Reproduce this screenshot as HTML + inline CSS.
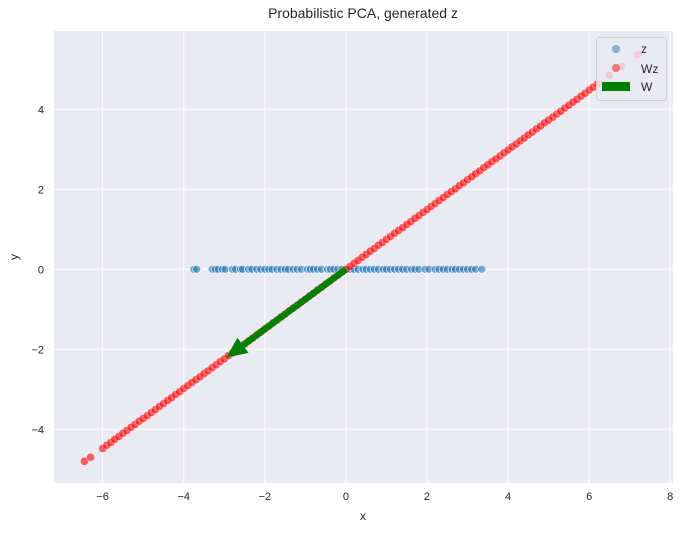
<!DOCTYPE html>
<html><head><meta charset="utf-8"><style>
body{margin:0;background:#fff;font-family:"Liberation Sans",sans-serif;}
svg text{font-family:"Liberation Sans",sans-serif;fill:#262626;}
</style></head><body>
<svg id="chart" width="686" height="532">
<text x="363" y="18" font-size="14" text-anchor="middle">Probabilistic PCA, generated z</text>
<rect x="54" y="31" width="619" height="452" fill="#eaeaf2"/>
<g id="grid"></g><g id="ticks"></g>
<g id="zpts"></g><g id="wzpts"></g><g id="arrow"></g>
<text x="363" y="520" font-size="12" text-anchor="middle">x</text>
<text x="18" y="257" font-size="12" text-anchor="middle" transform="rotate(-90 18 257)">y</text>
<g>
<rect x="596.5" y="37.5" width="70" height="63" rx="3" fill="#eaeaf2" fill-opacity="0.8" stroke="#d0d0d8"/>
<g><circle cx="616" cy="49" r="4" fill="#1f77b4" fill-opacity="0.5"/><text x="641" y="53" font-size="12">z</text></g>
<g><circle cx="616" cy="68" r="4" fill="#ff0000" fill-opacity="0.5"/><text x="641" y="73" font-size="12">Wz</text></g>
<g><rect x="602" y="82" width="28" height="9" fill="#008000"/><text x="641" y="91" font-size="12">W</text></g>
</g>
</svg>
<script>
const xTicks=[-6,-4,-2,0,2,4,6,8];
const yTicks=[-4,-2,0,2,4];
const zValues=[-3.75,-3.68,-3.3,-3.22,-3.15,-3.05,-2.98,-2.8,-2.72,-2.6,-2.55,-2.4,-2.32,-2.2,-2.1,-2.0,-1.9,-1.82,-1.7,-1.6,-1.5,-1.42,-1.3,-1.2,-1.1,-0.95,-0.88,-0.8,-0.7,-0.6,-0.45,-0.38,-0.3,-0.2,-0.1,0.05,0.12,0.2,0.3,0.42,0.5,0.6,0.7,0.8,0.92,1.0,1.1,1.2,1.3,1.4,1.5,1.62,1.7,1.8,1.95,2.05,2.2,2.3,2.4,2.5,2.62,2.7,2.8,2.9,3.0,3.1,3.2,3.35];
const wzX=[-6.45,-6.3,-6.0,-5.9,-5.8,-5.7,-5.6,-5.5,-5.4,-5.3,-5.2,-5.1,-5.0,-4.9,-4.8,-4.7,-4.6,-4.5,-4.4,-4.3,-4.2,-4.1,-4.0,-3.9,-3.8,-3.7,-3.6,-3.5,-3.4,-3.3,-3.2,-3.1,-3.0,-2.9,-2.8,-2.7,-2.6,-2.5,-2.4,-2.3,-2.2,-2.1,-2.0,-1.9,-1.8,-1.7,-1.6,-1.5,-1.4,-1.3,-1.2,-1.1,-1.0,-0.9,-0.8,-0.7,-0.6,-0.5,-0.4,-0.3,-0.2,-0.1,0,0.1,0.2,0.3,0.4,0.5,0.6,0.7,0.8,0.9,1.0,1.1,1.2,1.3,1.4,1.5,1.6,1.7,1.8,1.9,2.0,2.1,2.2,2.3,2.4,2.5,2.6,2.7,2.8,2.9,3.0,3.1,3.2,3.3,3.4,3.5,3.6,3.7,3.8,3.9,4.0,4.1,4.2,4.3,4.4,4.5,4.6,4.7,4.8,4.9,5.0,5.1,5.2,5.3,5.4,5.5,5.6,5.7,5.8,5.9,6.0,6.1,6.2,6.5,6.8,7.2];
const wzY=[-4.8,-4.70,-4.48,-4.40,-4.33,-4.25,-4.18,-4.10,-4.03,-3.95,-3.88,-3.80,-3.73,-3.66,-3.58,-3.51,-3.43,-3.36,-3.28,-3.21,-3.13,-3.06,-2.98,-2.91,-2.83,-2.76,-2.69,-2.61,-2.54,-2.46,-2.39,-2.31,-2.24,-2.16,-2.09,-2.01,-1.94,-1.87,-1.79,-1.72,-1.64,-1.57,-1.49,-1.42,-1.34,-1.27,-1.19,-1.12,-1.04,-0.97,-0.90,-0.82,-0.75,-0.67,-0.60,-0.52,-0.45,-0.37,-0.30,-0.22,-0.15,-0.07,0,0.07,0.15,0.22,0.30,0.37,0.45,0.52,0.60,0.67,0.75,0.82,0.90,0.97,1.04,1.12,1.19,1.27,1.34,1.42,1.49,1.57,1.64,1.72,1.79,1.87,1.94,2.01,2.09,2.16,2.24,2.31,2.39,2.46,2.54,2.61,2.69,2.76,2.83,2.91,2.98,3.06,3.13,3.21,3.28,3.36,3.43,3.51,3.58,3.66,3.73,3.80,3.88,3.95,4.03,4.10,4.18,4.25,4.33,4.40,4.48,4.55,4.63,4.85,5.07,5.37];
const wVec=[-2.94,-2.2];
const X0=345.9,XS=40.54,Y0=269.3,YS=40;
const sx=v=>X0+v*XS, sy=v=>Y0-v*YS;
const NS='http://www.w3.org/2000/svg';
function mk(tag,attrs,parent){const e=document.createElementNS(NS,tag);for(const k in attrs)e.setAttribute(k,attrs[k]);document.getElementById(parent).appendChild(e);return e;}
xTicks.forEach(t=>{
  const l=mk('line',{x1:sx(t),x2:sx(t),y1:31,y2:483,stroke:'#fff','stroke-width':1},'grid');
  
  
  const tx=mk('text',{x:sx(t),y:500,'font-size':11,'text-anchor':'middle'},'ticks');
  tx.textContent=(t<0?'\u2212'+(-t):t);
  
  
});
yTicks.forEach(t=>{
  const l=mk('line',{x1:54,x2:673,y1:sy(t),y2:sy(t),stroke:'#fff','stroke-width':1},'grid');
  
  
  const tx=mk('text',{x:44,y:sy(t)+4,'font-size':11,'text-anchor':'end'},'ticks');
  tx.textContent=(t<0?'\u2212'+(-t):t);
  
  
});
zValues.forEach(v=>{
  const c=mk('circle',{cx:sx(v),cy:sy(0),r:4,fill:'#1f77b4','fill-opacity':0.6,stroke:'#fff','stroke-width':0.6},'zpts');
  
  
});
wzX.forEach((v,i)=>{
  const c=mk('circle',{cx:sx(v),cy:sy(wzY[i]),r:4,fill:'#ff0000','fill-opacity':0.6,stroke:'#fff','stroke-width':0.5,'stroke-opacity':0.6},'wzpts');
  
  
});
(function(){
  const x1=sx(0),y1=sy(0),x2=sx(wVec[0]),y2=sy(wVec[1]);
  const dx=x2-x1,dy=y2-y1,L=Math.hypot(dx,dy),ux=dx/L,uy=dy/L,px=-uy,py=ux;
  const hl=20,hw=9,bx=x2-ux*hl,by=y2-uy*hl,w=3;
  const pts=[[x1+px*w,y1+py*w],[bx+px*w,by+py*w],[bx+px*hw,by+py*hw],[x2,y2],[bx-px*hw,by-py*hw],[bx-px*w,by-py*w],[x1-px*w,y1-py*w]];
  const a=mk('polygon',{points:pts.map(p=>p.join(',')).join(' '),fill:'#008000',stroke:'#008000','stroke-width':0.5},'arrow');
  
  
})();
</script>
</body></html>
